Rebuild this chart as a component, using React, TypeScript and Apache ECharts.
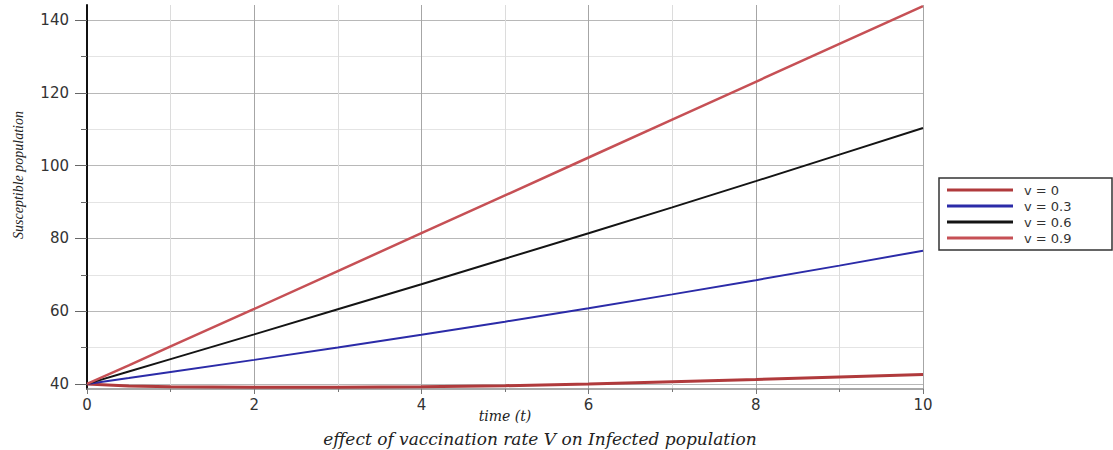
import React, { useEffect, useRef } from "react";
import * as echarts from "echarts";

const timePoints = [0, 0.5, 1, 2, 3, 4, 5, 6, 7, 8, 9, 10];
const seriesNames = ["v = 0", "v = 0.3", "v = 0.6", "v = 0.9"];
const v00 = [40, 39.4, 39.2, 39.1, 39.1, 39.2, 39.5, 40.0, 40.6, 41.2, 41.9, 42.6];
const v03 = [40, 41.6, 43.3, 46.6, 50.0, 53.5, 57.1, 60.8, 64.6, 68.5, 72.5, 76.6];
const v06 = [40, 43.4, 46.8, 53.6, 60.5, 67.4, 74.4, 81.4, 88.5, 95.7, 103.0, 110.3];
const v09 = [40, 45.1, 50.3, 60.6, 71.0, 81.4, 91.8, 102.2, 112.6, 123.0, 133.4, 143.8];
const seriesValues = [v00, v03, v06, v09];
const seriesColors = ["#b03a3c", "#2b2ba8", "#141414", "#c65055"];
const seriesWidths = [3, 2, 2, 2.5];

const xTitle = "time (t)";
const yTitle = "Susceptible population";
const subTitle = "effect of vaccination rate V on Infected population";

export default function App() {
  const ref = useRef<HTMLDivElement>(null);
  useEffect(() => {
    if (!ref.current) return;
    const chart = echarts.init(ref.current, undefined, { renderer: "svg" });
    const labelStyle = {
      fontFamily: "DejaVu Sans",
      fontSize: 15,
      color: "#333",
    };
    const option: any = {
      animation: false,
      backgroundColor: "#ffffff",
      grid: [
        { left: 87, right: 190, top: 5, bottom: 61 },
        { left: 87, right: 190, top: 20, bottom: 66 },
      ],
      legend: {
        orient: "vertical",
        left: 939,
        top: 178,
        padding: [5, 8, 5, 8],
        itemGap: 2,
        itemWidth: 66,
        itemHeight: 3,
        icon: "rect",
        borderColor: "#333",
        borderWidth: 1.5,
        data: seriesNames,
        textStyle: {
          fontFamily: "DejaVu Sans",
          fontSize: 13,
          lineHeight: 14,
          color: "#333",
          width: 80,
          padding: [0, 0, 0, 6],
        },
      },
      xAxis: [
        {
          type: "value",
          gridIndex: 0,
          min: 0,
          max: 10,
          interval: 2,
          axisLine: { show: true, onZero: false, lineStyle: { color: "#8c8c8c", width: 1.5 } },
          axisTick: { show: true, length: 5, lineStyle: { color: "#777" } },
          minorTick: { show: true, splitNumber: 2, length: 3, lineStyle: { color: "#777" } },
          splitLine: { show: true, lineStyle: { color: "#a6a6a6", width: 1 } },
          minorSplitLine: { show: true, lineStyle: { color: "#dcdcdc", width: 1 } },
          axisLabel: { ...labelStyle, margin: 8 },
          name: xTitle,
          nameLocation: "middle",
          nameGap: 19,
          nameMoveOverlap: false,
          nameTextStyle: {
            fontFamily: "DejaVu Serif",
            fontStyle: "italic",
            fontSize: 14,
            lineHeight: 16,
            color: "#222",
          },
        },
        { type: "value", gridIndex: 1, min: 0, max: 10, show: false },
      ],
      yAxis: [
        {
          type: "value",
          gridIndex: 0,
          min: 38.6,
          max: 144.1,
          axisLine: { show: true, onZero: false, lineStyle: { color: "#111", width: 2 } },
          axisTick: { show: false },
          axisLabel: { show: false },
          splitLine: { show: false },
        },
        {
          type: "value",
          gridIndex: 1,
          min: 40,
          max: 140,
          interval: 20,
          axisLine: { show: false },
          axisTick: { show: true, length: 12, lineStyle: { color: "#666" } },
          minorTick: { show: true, splitNumber: 2, length: 6, lineStyle: { color: "#666" } },
          splitLine: { show: true, lineStyle: { color: "#b8b8b8" } },
          minorSplitLine: { show: true, lineStyle: { color: "#e4e4e4" } },
          axisLabel: { ...labelStyle, margin: 18 },
        },
      ],
      graphic: [
        {
          type: "text",
          x: 18,
          y: 175,
          rotation: Math.PI / 2,
          style: {
            text: yTitle,
            fontFamily: "Liberation Serif",
            fontStyle: "italic",
            fontSize: 14,
            fill: "#222",
            textAlign: "center",
            textVerticalAlign: "middle",
          },
        },
        {
          type: "text",
          x: 540,
          y: 439,
          style: {
            text: subTitle,
            fontFamily: "DejaVu Serif",
            fontStyle: "italic",
            fontSize: 17,
            lineHeight: 18,
            fill: "#222",
            textAlign: "center",
            textVerticalAlign: "middle",
          },
        },
      ],
      series: seriesNames.map((name, i) => ({
        name,
        type: "line",
        xAxisIndex: 0,
        yAxisIndex: 0,
        showSymbol: false,
        symbol: "none",
        clip: false,
        color: seriesColors[i],
        lineStyle: {
          color: seriesColors[i],
          width: seriesWidths[i],
        },
        data: timePoints.map((t, j) => [t, seriesValues[i][j]]),
        z: 3 + i,
      })),
    };
    chart.setOption(option);
    return () => chart.dispose();
  }, []);
  return (
    <div
      ref={ref}
      style={{ position: "fixed", left: 0, top: 0, width: 1113, height: 450 }}
    />
  );
}
